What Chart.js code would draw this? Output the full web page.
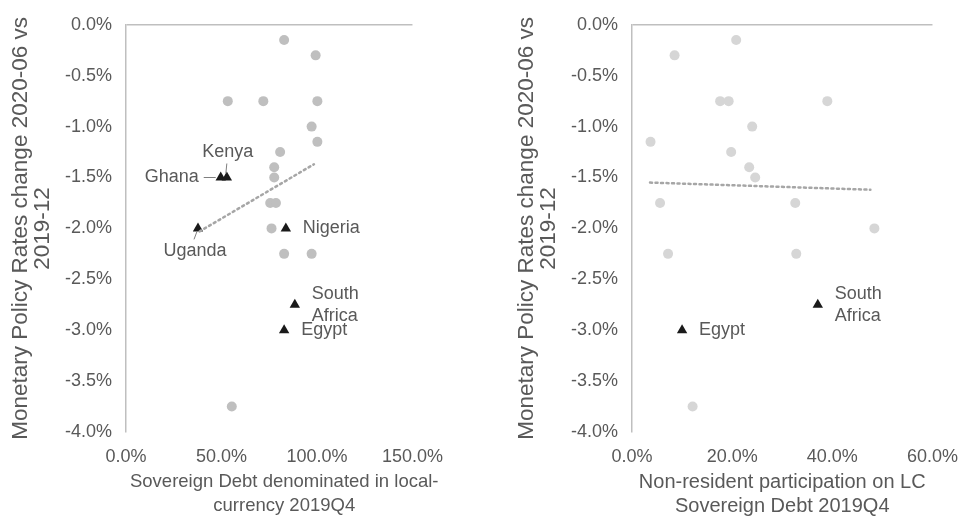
<!DOCTYPE html>
<html>
<head>
<meta charset="utf-8">
<script src="https://cdn.jsdelivr.net/npm/chart.js@4/dist/chart.umd.min.js"></script>
<style>
  html, body { margin: 0; padding: 0; background: #fff; overflow: hidden; }
  .box { position: absolute; top: 0; height: 517px; }
  #leftBox { left: 0; width: 457px; }
  #rightBox { left: 495px; width: 477px; }
</style>
</head>
<body>
<div class="box" id="leftBox"><canvas id="leftChart"></canvas></div>
<div class="box" id="rightBox"><canvas id="rightChart"></canvas></div>
<script>
// left panel: share of sovereign debt in local currency (%) vs policy rate change (pp)
const leftOtherX = [82.8, 99.3, 53.3, 71.9, 100.2, 97.2, 100.2, 80.7, 77.6, 77.6, 75.5, 78.5, 76.2, 82.8, 97.2, 55.4];
const leftOtherY = [-0.15, -0.3, -0.75, -0.75, -0.75, -1.0, -1.15, -1.25, -1.4, -1.5, -1.75, -1.75, -2.0, -2.25, -2.25, -3.75];
const leftNames = ['Ghana', 'Kenya', 'Uganda', 'Nigeria', 'South Africa', 'Egypt'];
const leftNamedX = [49.6, 52.8, 37.7, 83.7, 88.4, 82.8];
const leftNamedY = [-1.5, -1.5, -2.0, -2.0, -2.75, -3.0];
const leftTrendX = [38.5, 98.4];
const leftTrendY = [-2.03, -1.37];
const leftTicksX = [0, 50, 100, 150];

// right panel: non-resident participation (%) vs policy rate change (pp)
const rightOtherX = [20.8, 8.5, 17.6, 19.3, 39.0, 24.0, 3.7, 19.8, 23.4, 24.6, 5.6, 32.6, 48.4, 7.2, 32.8, 12.1];
const rightOtherY = [-0.15, -0.3, -0.75, -0.75, -0.75, -1.0, -1.15, -1.25, -1.4, -1.5, -1.75, -1.75, -2.0, -2.25, -2.25, -3.75];
const rightNames = ['Egypt', 'South Africa'];
const rightNamedX = [10.0, 37.1];
const rightNamedY = [-3.0, -2.75];
const rightTrendX = [3.6, 47.6];
const rightTrendY = [-1.55, -1.62];
const rightTicksX = [0, 20, 40, 60];

const yTitle = ['Monetary Policy Rates change 2020-06 vs', '2019-12'];
const textGray = '#595959';
const fontFamily = '"Liberation Sans", Arial, sans-serif';

// where each country label sits relative to its triangle (px), plus optional leader line
const labelStyle = {
  'Ghana':        { dx: -22, dy: 0,   align: 'right',  lines: ['Ghana'],  leader: [-17, 0, -5, 0] },
  'Kenya':        { dx: 1,   dy: -25, align: 'center', lines: ['Kenya'],  leader: [0, -14, -1, -4] },
  'Uganda':       { dx: -3,  dy: 23,  align: 'center', lines: ['Uganda'], leader: [-1, 3, -4, 11] },
  'Nigeria':      { dx: 17,  dy: 0,   align: 'left',   lines: ['Nigeria'] },
  'South Africa': { dx: 17,  dy: 0,   align: 'left',   lines: ['South', 'Africa'] },
  'Egypt':        { dx: 17,  dy: 0,   align: 'left',   lines: ['Egypt'] }
};

function pts(xs, ys) {
  return xs.map((x, i) => ({ x: x, y: ys[i] }));
}

const countryLabels = {
  id: 'countryLabels',
  afterDatasetsDraw(chart, args, opts) {
    const ctx = chart.ctx;
    const xs = chart.scales.x, ys = chart.scales.y;
    ctx.save();
    ctx.font = opts.size + 'px ' + fontFamily;
    ctx.fillStyle = textGray;
    ctx.strokeStyle = '#7f7f7f';
    ctx.lineWidth = 1;
    opts.names.forEach((name, i) => {
      const st = labelStyle[name];
      const px = xs.getPixelForValue(opts.xs[i]);
      const py = ys.getPixelForValue(opts.ys[i]);
      ctx.textAlign = st.align;
      ctx.textBaseline = 'middle';
      const lh = 22;
      const startY = py + st.dy - (st.lines.length - 1) * lh / 2;
      st.lines.forEach((ln, k) => ctx.fillText(ln, px + st.dx, startY + k * lh));
      if (st.leader) {
        ctx.beginPath();
        ctx.moveTo(px + st.leader[0], py + st.leader[1]);
        ctx.lineTo(px + st.leader[2], py + st.leader[3]);
        ctx.stroke();
      }
    });
    ctx.restore();
  }
};

// x-axis title drawn by hand so it can be wider than the plot area (as in the source)
const xTitlePlugin = {
  id: 'xTitleText',
  afterDraw(chart, args, opts) {
    const ctx = chart.ctx;
    const a = chart.chartArea;
    ctx.save();
    ctx.font = opts.size + 'px ' + fontFamily;
    ctx.fillStyle = textGray;
    ctx.textAlign = 'center';
    ctx.textBaseline = 'middle';
    const cx = (a.left + a.right) / 2 + opts.shift;
    opts.lines.forEach((ln, k) => ctx.fillText(ln, cx, a.bottom + 50 + k * 24));
    ctx.restore();
  }
};

function makeChart(id, cfg) {
  return new Chart(document.getElementById(id), {
    type: 'scatter',
    data: {
      datasets: [
        {
          data: pts(cfg.trendX, cfg.trendY),
          type: 'line',
          borderColor: '#a6a6a6',
          borderWidth: 2.5,
          borderDash: [2, 3.5],
          borderCapStyle: 'round',
          pointRadius: 0,
          fill: false
        },
        {
          data: pts(cfg.otherX, cfg.otherY),
          backgroundColor: cfg.dotColor,
          borderWidth: 0,
          pointRadius: 5
        },
        {
          data: pts(cfg.namedX, cfg.namedY),
          pointStyle: 'triangle',
          backgroundColor: '#1a1a1a',
          borderColor: '#1a1a1a',
          borderWidth: 0,
          pointRadius: 6
        }
      ]
    },
    options: {
      responsive: true,
      maintainAspectRatio: false,
      animation: false,
      layout: { padding: { top: 20, right: cfg.padRight, left: 0, bottom: 0 } },
      plugins: {
        legend: { display: false },
        tooltip: { enabled: false },
        countryLabels: { names: cfg.names, xs: cfg.namedX, ys: cfg.namedY, size: 18 },
        xTitleText: { lines: cfg.xTitle, size: cfg.xTitleSize, shift: cfg.xTitleShift }
      },
      scales: {
        x: {
          type: 'linear',
          min: cfg.ticksX[0],
          max: cfg.ticksX[cfg.ticksX.length - 1],
          afterBuildTicks: s => { s.ticks = cfg.ticksX.map(v => ({ value: v })); },
          afterFit: s => { s.height = 85; },
          grid: { display: false, drawTicks: false },
          border: { display: false },
          ticks: {
            padding: 14,
            color: textGray,
            font: { family: fontFamily, size: 18 },
            callback: v => v.toFixed(1) + '%'
          }
        },
        y: {
          min: -4,
          max: 0,
          afterFit: s => { s.width = cfg.yWidth; },
          grid: {
            drawTicks: false,
            lineWidth: 1.5,
            color: c => (c.tick && c.tick.value === 0 ? '#bfbfbf' : 'rgba(0,0,0,0)')
          },
          border: { display: true, color: '#bfbfbf', width: 1.5 },
          ticks: {
            stepSize: 0.5,
            padding: 14,
            color: textGray,
            font: { family: fontFamily, size: 18 },
            callback: v => v.toFixed(1) + '%'
          },
          title: {
            display: true,
            text: yTitle,
            color: textGray,
            font: { family: fontFamily, size: 22.5, lineHeight: 0.98 },
            padding: { top: cfg.yTitlePad, bottom: 0 }
          }
        }
      }
    },
    plugins: [countryLabels, xTitlePlugin]
  });
}

makeChart('leftChart', {
  otherX: leftOtherX, otherY: leftOtherY,
  names: leftNames, namedX: leftNamedX, namedY: leftNamedY,
  trendX: leftTrendX, trendY: leftTrendY,
  ticksX: leftTicksX,
  xTitle: ['Sovereign Debt denominated in local-', 'currency 2019Q4'],
  xTitleSize: 18.5, xTitleShift: 15,
  dotColor: '#bfbfbf',
  yWidth: 126, padRight: 24, yTitlePad: 10
});

makeChart('rightChart', {
  otherX: rightOtherX, otherY: rightOtherY,
  names: rightNames, namedX: rightNamedX, namedY: rightNamedY,
  trendX: rightTrendX, trendY: rightTrendY,
  ticksX: rightTicksX,
  xTitle: ['Non-resident participation on LC', 'Sovereign Debt 2019Q4'],
  xTitleSize: 20, xTitleShift: 0,
  dotColor: '#d6d6d6',
  yWidth: 137, padRight: 34, yTitlePad: 21
});
</script>
</body>
</html>
